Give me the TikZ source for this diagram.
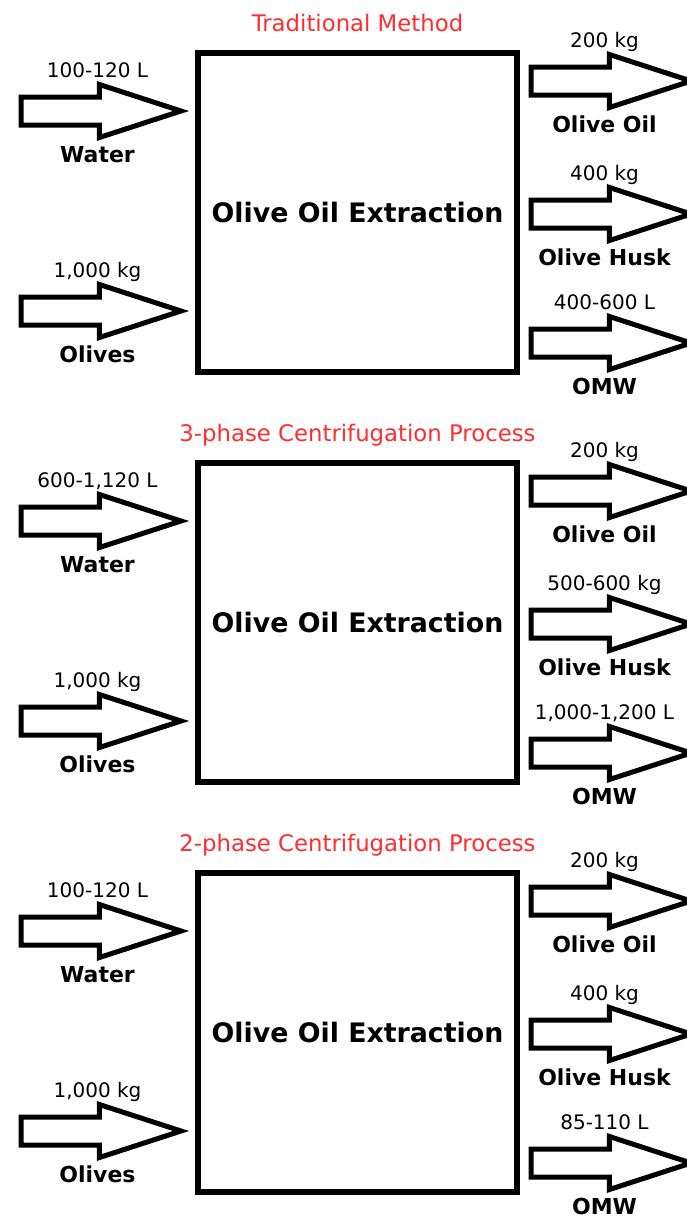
\documentclass[tikz,border=0pt]{standalone}
\usepackage{fontspec}
\setmainfont{DejaVu Sans}
\usetikzlibrary{positioning,shapes.arrows}
\definecolor{titred}{HTML}{FF2D2D}
\tikzset{
  procbox/.style={rectangle, draw=black, line width=3pt, minimum width=159.5pt,
                  minimum height=159.5pt, font=\fontsize{13.4}{16}\selectfont\bfseries},
  flow/.style={single arrow, draw=black, fill=white, line width=2.5pt, inner sep=0pt,
               inner ysep=5.75pt, single arrow head extend=6.25pt,
               single arrow tip angle=36, minimum height=80pt, anchor=tail},
  qty/.style={inner sep=0pt, text depth=0pt, font=\fontsize{10}{12}\selectfont},
  what/.style={inner sep=0pt, text height=8pt, text depth=0pt,
               font=\fontsize{11}{13}\selectfont\bfseries},
  titre/.style={inner sep=0pt, text depth=0pt, text=titred, font=\fontsize{11.4}{13}\selectfont},
}

\begin{document}
\begin{tikzpicture}[x=0.5pt, y=-0.5pt]
  \useasboundingbox (0,0) rectangle (686,1221);
  % traditional
  \node[procbox] (box1) at (357.5,212.5) {Olive Oil Extraction};
  \node[titre, above=9pt of box1] (t1) {Traditional Method};
  \node[flow] (wat1) at (18.5,111) {};
  \node[flow] (oli1) at (18.5,311) {};
  \node[flow] (oil1) at (528.5,81) {};
  \node[flow] (husk1) at (528.5,214) {};
  \node[flow] (omw1) at (528.5,343) {};
  \node[qty, above=16.5pt of wat1.tail, xshift=39.5pt] (wq1) {100-120 L};
  \node[what, below=17.5pt of wat1.tail, xshift=39.5pt] (wn1) {Water};
  \node[qty, above=16.5pt of oli1.tail, xshift=39.5pt] (oq1) {1,000 kg};
  \node[what, below=17.5pt of oli1.tail, xshift=39.5pt] (on1) {Olives};
  \node[qty, above=16.5pt of oil1.tail, xshift=38pt] (lq1) {200 kg};
  \node[what, below=17.5pt of oil1.tail, xshift=38pt] (ln1) {Olive Oil};
  \node[qty, above=16.5pt of husk1.tail, xshift=38pt] (hq1) {400 kg};
  \node[what, below=17.5pt of husk1.tail, xshift=38pt] (hn1) {Olive Husk};
  \node[qty, above=16.5pt of omw1.tail, xshift=38pt] (mq1) {400-600 L};
  \node[what, below=17.5pt of omw1.tail, xshift=38pt] (mn1) {OMW};
  % 3-phase
  \begin{scope}[yshift=-205pt]
    \node[procbox] (box2) at (357.5,212.5) {Olive Oil Extraction};
    \node[titre, above=9pt of box2] (t2) {3-phase Centrifugation Process};
    \node[flow] (wat2) at (18.5,111) {};
    \node[flow] (oli2) at (18.5,311) {};
    \node[flow] (oil2) at (528.5,81) {};
    \node[flow] (husk2) at (528.5,214) {};
    \node[flow] (omw2) at (528.5,343) {};
    \node[qty, above=16.5pt of wat2.tail, xshift=39.5pt] (wq2) {600-1,120 L};
    \node[what, below=17.5pt of wat2.tail, xshift=39.5pt] (wn2) {Water};
    \node[qty, above=16.5pt of oli2.tail, xshift=39.5pt] (oq2) {1,000 kg};
    \node[what, below=17.5pt of oli2.tail, xshift=39.5pt] (on2) {Olives};
    \node[qty, above=16.5pt of oil2.tail, xshift=38pt] (lq2) {200 kg};
    \node[what, below=17.5pt of oil2.tail, xshift=38pt] (ln2) {Olive Oil};
    \node[qty, above=16.5pt of husk2.tail, xshift=38pt] (hq2) {500-600 kg};
    \node[what, below=17.5pt of husk2.tail, xshift=38pt] (hn2) {Olive Husk};
    \node[qty, above=16.5pt of omw2.tail, xshift=38pt] (mq2) {1,000-1,200 L};
    \node[what, below=17.5pt of omw2.tail, xshift=38pt] (mn2) {OMW};
  \end{scope}
  % 2-phase
  \begin{scope}[yshift=-410pt]
    \node[procbox] (box3) at (357.5,212.5) {Olive Oil Extraction};
    \node[titre, above=9pt of box3] (t3) {2-phase Centrifugation Process};
    \node[flow] (wat3) at (18.5,111) {};
    \node[flow] (oli3) at (18.5,311) {};
    \node[flow] (oil3) at (528.5,81) {};
    \node[flow] (husk3) at (528.5,214) {};
    \node[flow] (omw3) at (528.5,343) {};
    \node[qty, above=16.5pt of wat3.tail, xshift=39.5pt] (wq3) {100-120 L};
    \node[what, below=17.5pt of wat3.tail, xshift=39.5pt] (wn3) {Water};
    \node[qty, above=16.5pt of oli3.tail, xshift=39.5pt] (oq3) {1,000 kg};
    \node[what, below=17.5pt of oli3.tail, xshift=39.5pt] (on3) {Olives};
    \node[qty, above=16.5pt of oil3.tail, xshift=38pt] (lq3) {200 kg};
    \node[what, below=17.5pt of oil3.tail, xshift=38pt] (ln3) {Olive Oil};
    \node[qty, above=16.5pt of husk3.tail, xshift=38pt] (hq3) {400 kg};
    \node[what, below=17.5pt of husk3.tail, xshift=38pt] (hn3) {Olive Husk};
    \node[qty, above=16.5pt of omw3.tail, xshift=38pt] (mq3) {85-110 L};
    \node[what, below=17.5pt of omw3.tail, xshift=38pt] (mn3) {OMW};
  \end{scope}
\end{tikzpicture}
\end{document}
